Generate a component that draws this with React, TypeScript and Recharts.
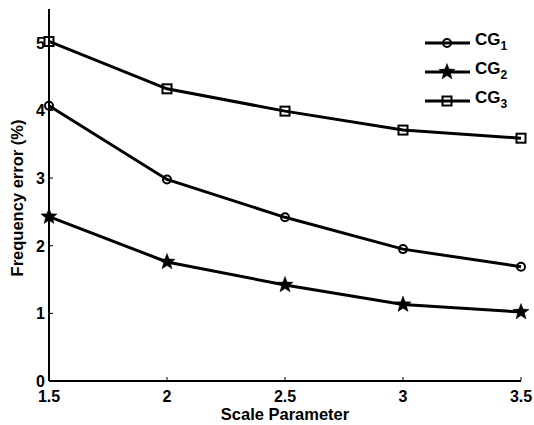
import React from 'react';
import { LineChart, Line, XAxis, YAxis } from 'recharts';

const scaleParams = [1.5, 2, 2.5, 3, 3.5];
const cg1 = [4.07, 2.98, 2.42, 1.95, 1.69];
const cg2 = [2.43, 1.76, 1.42, 1.13, 1.02];
const cg3 = [5.02, 4.32, 3.99, 3.71, 3.59];

const xTicks = [1.5, 2, 2.5, 3, 3.5];
const yTicks = [0, 1, 2, 3, 4, 5];

const data = scaleParams.map((s, i) => ({ s, cg1: cg1[i], cg2: cg2[i], cg3: cg3[i] }));

const FONT = '"Liberation Sans", Arial, sans-serif';
const TICK_LEN = 4;
const LINE_W = 3;

const starPath = (cx: number, cy: number, R: number) => {
  const r = R * 0.42;
  let d = '';
  for (let i = 0; i < 10; i++) {
    const rad = i % 2 === 0 ? R : r;
    const a = -Math.PI / 2 + (i * Math.PI) / 5;
    d += (i === 0 ? 'M' : 'L') + (cx + rad * Math.cos(a)).toFixed(2) + ',' + (cy + rad * Math.sin(a)).toFixed(2);
  }
  return d + 'Z';
};

const Marker = ({ kind, cx, cy }: { kind: string; cx: number; cy: number }) => {
  if (kind === 'circle') return <circle cx={cx} cy={cy} r={4} fill="none" stroke="#000" strokeWidth={2} />;
  if (kind === 'square')
    return <rect x={cx - 4.5} y={cy - 4.5} width={9} height={9} fill="none" stroke="#000" strokeWidth={2} />;
  return <path d={starPath(cx, cy, 8.5)} fill="#000" stroke="#000" strokeWidth={0.5} />;
};

const dotFor = (kind: string) => (p: any) => <Marker key={kind + p.index} kind={kind} cx={p.cx} cy={p.cy} />;

// tick renderers: the inward tick mark plus the label
const BottomTick = (p: any) => (
  <g>
    <line x1={p.x} y1={p.y} x2={p.x} y2={p.y - TICK_LEN} stroke="#000" strokeWidth={1} />
    <text x={p.x} y={p.y + 21} textAnchor="middle" fontFamily={FONT} fontWeight="bold" fontSize={16} fill="#000">
      {p.payload.value}
    </text>
  </g>
);
const LeftTick = (p: any) => (
  <g>
    <line x1={p.x} y1={p.y} x2={p.x + TICK_LEN} y2={p.y} stroke="#000" strokeWidth={1} />
    <text x={p.x - 4} y={p.y + 6} textAnchor="end" fontFamily={FONT} fontWeight="bold" fontSize={16} fill="#000">
      {p.payload.value}
    </text>
  </g>
);
const TopTick = (p: any) => (
  <line x1={p.x} y1={p.y} x2={p.x} y2={p.y + TICK_LEN} stroke="#000" strokeWidth={1} />
);
const RightTick = (p: any) => (
  <line x1={p.x} y1={p.y} x2={p.x - TICK_LEN} y2={p.y} stroke="#000" strokeWidth={1} />
);

const legendItems = [
  { kind: 'circle', sub: '1' },
  { kind: 'star', sub: '2' },
  { kind: 'square', sub: '3' },
];

const LegendBox = () => (
  <div style={{ position: 'absolute', left: 424, top: 28, fontFamily: FONT, fontWeight: 'bold', fontSize: 17 }}>
    {legendItems.map((it) => (
      <div key={it.sub} style={{ display: 'flex', alignItems: 'center', height: 29 }}>
        <svg width={47} height={20} style={{ display: 'block' }}>
          <line x1={1} y1={10} x2={46} y2={10} stroke="#000" strokeWidth={LINE_W} />
          <Marker kind={it.kind} cx={23} cy={10} />
        </svg>
        <span style={{ marginLeft: 4, lineHeight: '17px' }}>
          CG<sub style={{ fontSize: 12, verticalAlign: '-5px' }}>{it.sub}</sub>
        </span>
      </div>
    ))}
  </div>
);

export default function App() {
  return (
    <div style={{ position: 'absolute', left: 0, top: 0, width: 534, height: 425, background: '#fff' }}>
      <LineChart width={534} height={425} data={data} margin={{ top: 9, right: 13, bottom: 0, left: 0 }}>
        <XAxis
          dataKey="s"
          type="number"
          domain={[1.5, 3.5]}
          ticks={xTicks}
          height={44}
          tickSize={0}
          tickMargin={0}
          tickLine={false}
          tick={<BottomTick />}
          axisLine={{ stroke: '#000', strokeWidth: 2 }}
          label={(lp: any) => (
            <text
              x={lp.viewBox.x + lp.viewBox.width / 2}
              y={lp.viewBox.y + 39}
              textAnchor="middle"
              fontFamily={FONT}
              fontWeight="bold"
              fontSize={16.5}
              fill="#000"
            >
              Scale Parameter
            </text>
          )}
        />
        <XAxis
          xAxisId="top"
          orientation="top"
          dataKey="s"
          type="number"
          domain={[1.5, 3.5]}
          ticks={xTicks}
          height={0}
          tickSize={0}
          tickMargin={0}
          tickLine={false}
          tick={<TopTick />}
          axisLine={{ stroke: '#000', strokeWidth: 1.5 }}
        />
        <YAxis
          type="number"
          domain={[0, 5.5]}
          ticks={yTicks}
          width={49}
          tickSize={0}
          tickMargin={0}
          tickLine={false}
          tick={<LeftTick />}
          axisLine={{ stroke: '#000', strokeWidth: 2 }}
          label={(lp: any) => {
            const cx = lp.viewBox.x + 17;
            const cy = lp.viewBox.y + lp.viewBox.height / 2 + 3;
            return (
              <text
                x={cx}
                y={cy}
                transform={`rotate(-90, ${cx}, ${cy})`}
                textAnchor="middle"
                dominantBaseline="central"
                fontFamily={FONT}
                fontWeight="bold"
                fontSize={16.5}
                fill="#000"
              >
                Frequency error (%)
              </text>
            );
          }}
        />
        <YAxis
          yAxisId="right"
          orientation="right"
          type="number"
          domain={[0, 5.5]}
          ticks={yTicks}
          width={0}
          tickSize={0}
          tickMargin={0}
          tickLine={false}
          tick={<RightTick />}
          axisLine={{ stroke: '#000', strokeWidth: 1.5 }}
        />
        <Line type="linear" dataKey="cg1" stroke="#000" strokeWidth={LINE_W} dot={dotFor('circle')} activeDot={false} isAnimationActive={false} />
        <Line type="linear" dataKey="cg2" stroke="#000" strokeWidth={LINE_W} dot={dotFor('star')} activeDot={false} isAnimationActive={false} />
        <Line type="linear" dataKey="cg3" stroke="#000" strokeWidth={LINE_W} dot={dotFor('square')} activeDot={false} isAnimationActive={false} />
      </LineChart>
      <LegendBox />
    </div>
  );
}
